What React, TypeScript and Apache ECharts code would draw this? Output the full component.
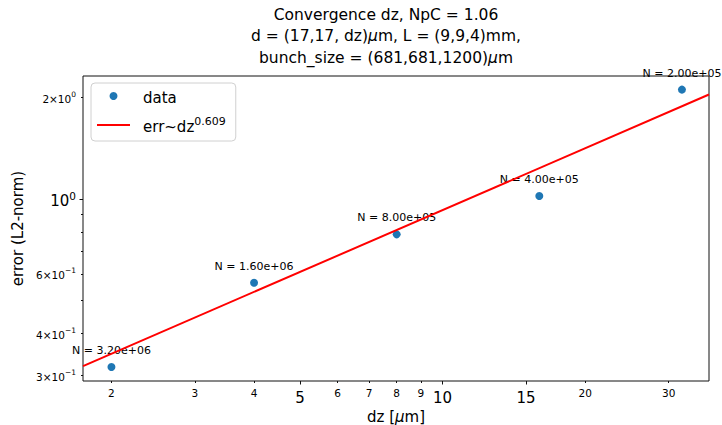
import React, { useEffect, useRef } from "react";
import * as echarts from "echarts";

const dz = [2, 4, 8, 16, 32];
const err = [0.318, 0.565, 0.786, 1.021, 2.11];
const nParticles = [3.2e6, 1.6e6, 8e5, 4e5, 2e5];
const fitDz = [1.742, 36.5];
const fitErr = [0.32, 2.04];
const xRange = [1.742, 36.5];
const yRange = [0.289, 2.315];
const xMajorTicks = [5, 10, 15];
const xMinorTicks = [2, 3, 4, 6, 7, 8, 9, 20, 30];
const yMajorTicks = [1];
const yMinorTicks = [0.3, 0.4, 0.5, 0.6, 0.7, 0.8, 0.9, 2];
const yMinorLabels = [0.3, 0.4, 0.6, 2];
const fitExponent = "0.609";

const FONT = "DejaVu Sans";
const TXT = "#000";

function fmtN(v: number): string {
  const [m, e] = v.toExponential(2).split("e");
  const sign = e[0];
  const digits = e.slice(1).padStart(2, "0");
  return `N = ${m}e${sign}${digits}`;
}

function fmtLogMinor(v: number): string {
  const exp = Math.floor(Math.log10(v) + 1e-9);
  const mant = Math.round(v / Math.pow(10, exp));
  const es = exp < 0 ? "\u2212" + -exp : String(exp);
  return `{m|${mant}\u00d710}{s|${es}}`;
}

export default function App() {
  const ref = useRef<HTMLDivElement>(null);
  useEffect(() => {
    if (!ref.current) return;
    const chart = echarts.init(ref.current, undefined, { renderer: "svg" });
    const xCommon = {
      type: "log" as const,
      logBase: 10,
      min: xRange[0],
      max: xRange[1],
      gridIndex: 0,
      position: "bottom" as const,
      axisLine: { show: false },
      splitLine: { show: false },
    };
    const yCommon = {
      type: "log" as const,
      logBase: 10,
      min: yRange[0],
      max: yRange[1],
      gridIndex: 0,
      position: "left" as const,
      axisLine: { show: false },
      splitLine: { show: false },
    };
    chart.setOption({
      animation: false,
      textStyle: { fontFamily: FONT },
      title: {
        text:
          "Convergence dz, NpC = 1.06\nd = (17,17, dz){i|\u03bc}m, L = (9,9,4)mm,\nbunch_size = (681,681,1200){i|\u03bc}m",
        left: 381,
        top: -1,
        textAlign: "center",
        textStyle: {
          fontFamily: FONT,
          fontSize: 15.5,
          fontWeight: "normal",
          color: TXT,
          lineHeight: 21.5,
          rich: {
            i: { fontFamily: FONT, fontSize: 15.5, fontStyle: "italic", color: TXT, lineHeight: 21.5 },
          },
        },
      },
      grid: {
        left: 83,
        right: 13,
        top: 76,
        bottom: 44,
        outerBoundsMode: "none",
        containLabel: false,
        show: true,
        borderColor: "#111",
        borderWidth: 1,
        backgroundColor: "transparent",
      },
      legend: {
        left: 91,
        top: 83,
        orient: "vertical",
        itemWidth: 33,
        itemHeight: 8,
        itemGap: 11,
        padding: [7, 10, 7, 5],
        backgroundColor: "rgba(255,255,255,0.8)",
        borderColor: "#d0d0d0",
        borderWidth: 1,
        borderRadius: 4,
        data: [
          { name: "data", icon: "circle" },
          { name: "fit", itemStyle: { opacity: 0 } },
        ],
        formatter: (name: string) =>
          name === "fit" ? `{t|err~dz}{s|${fitExponent}}` : `{t|data}`,
        textStyle: {
          fontFamily: FONT,
          fontSize: 15,
          color: TXT,
          padding: [0, 0, 0, 8],
          rich: {
            t: { fontFamily: FONT, fontSize: 15, color: TXT, lineHeight: 18, verticalAlign: "bottom" },
            s: { fontFamily: FONT, fontSize: 11, color: TXT, lineHeight: 18, verticalAlign: "top" },
          },
        },
      },
      xAxis: [
        {
          ...xCommon,
          name: "dz [{i|\u03bc}m]",
          nameLocation: "middle",
          nameGap: 28,
          nameTextStyle: {
            fontFamily: FONT,
            fontSize: 15,
            color: TXT,
            rich: { i: { fontFamily: FONT, fontSize: 15, fontStyle: "italic", color: TXT } },
          },
          axisTick: { show: true, length: 3.5, customValues: xMajorTicks, lineStyle: { color: "#111" } },
          axisLabel: {
            show: true,
            customValues: xMajorTicks,
            margin: 9,
            fontFamily: FONT,
            fontSize: 15,
            color: TXT,
          },
        },
        {
          ...xCommon,
          axisTick: { show: true, length: 2, customValues: xMinorTicks, lineStyle: { color: "#111" } },
          axisLabel: {
            show: true,
            customValues: xMinorTicks,
            margin: 6,
            fontFamily: FONT,
            fontSize: 10.5,
            color: TXT,
          },
        },
      ],
      yAxis: [
        {
          ...yCommon,
          name: "error (L2-norm)",
          nameLocation: "middle",
          nameGap: 58,
          nameTextStyle: { fontFamily: FONT, fontSize: 15, color: TXT },
          axisTick: { show: true, length: 3.5, customValues: yMajorTicks, lineStyle: { color: "#111" } },
          axisLabel: {
            show: true,
            customValues: yMajorTicks,
            margin: 7,
            formatter: () => "{b|10}{bs|0}",
            rich: {
              b: { fontFamily: FONT, fontSize: 15, color: TXT, lineHeight: 18, verticalAlign: "bottom" },
              bs: { fontFamily: FONT, fontSize: 10.5, color: TXT, lineHeight: 18, verticalAlign: "top" },
            },
          },
        },
        {
          ...yCommon,
          axisTick: { show: true, length: 2, customValues: yMinorTicks, lineStyle: { color: "#111" } },
          axisLabel: {
            show: true,
            customValues: yMinorLabels,
            margin: 7,
            formatter: (v: number) => fmtLogMinor(v),
            rich: {
              m: { fontFamily: FONT, fontSize: 10.5, color: TXT, lineHeight: 14, verticalAlign: "bottom" },
              s: { fontFamily: FONT, fontSize: 7.5, color: TXT, lineHeight: 14, verticalAlign: "top" },
            },
          },
        },
      ],
      series: [
        {
          name: "data",
          type: "scatter",
          xAxisIndex: 0,
          yAxisIndex: 0,
          data: dz.map((d, i) => [d, err[i]]),
          symbol: "circle",
          symbolSize: 8,
          itemStyle: { color: "#1f77b4", opacity: 1 },
          label: {
            show: true,
            position: "top",
            distance: 7,
            fontFamily: FONT,
            fontSize: 11,
            color: TXT,
            formatter: (p: any) => fmtN(nParticles[p.dataIndex]),
          },
          z: 2,
        },
        {
          name: "fit",
          type: "line",
          xAxisIndex: 0,
          yAxisIndex: 0,
          data: fitDz.map((d, i) => [d, fitErr[i]]),
          symbol: "none",
          lineStyle: { color: "#ff0000", width: 2 },
          itemStyle: { color: "#ff0000" },
          z: 3,
        },
      ],
    });
    return () => chart.dispose();
  }, []);
  return (
    <div
      ref={ref}
      style={{ position: "fixed", left: 0, top: 0, width: 722, height: 425, background: "#fff" }}
    />
  );
}
